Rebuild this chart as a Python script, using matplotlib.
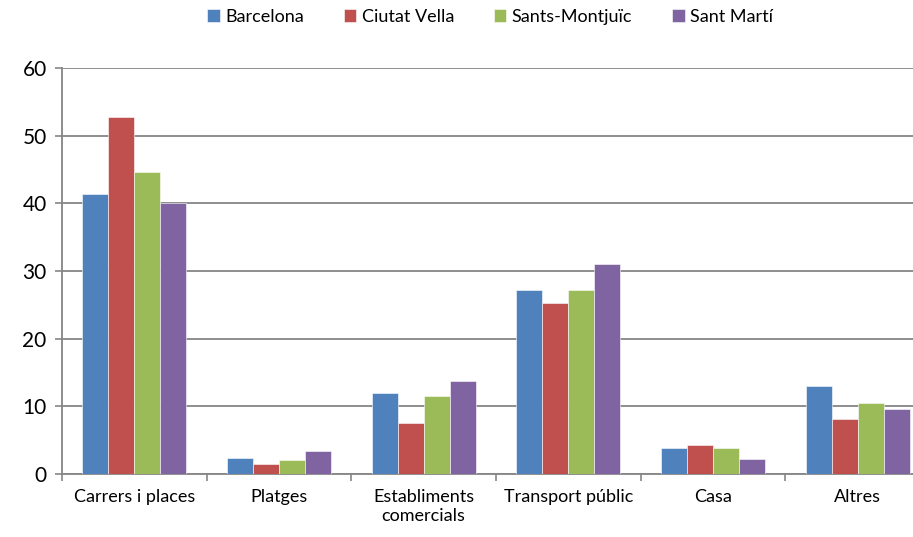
import matplotlib.pyplot as plt
import numpy as np

plt.rcParams['font.family'] = ['Lato', 'DejaVu Sans']

categories = ["Carrers i places", "Platges", "Establiments\ncomercials",
              "Transport públic", "Casa", "Altres"]
series_names = ["Barcelona", "Ciutat Vella", "Sants-Montjuïc", "Sant Martí"]
barcelona = [41.4, 2.4, 12.0, 27.2, 3.8, 13.0]
ciutat_vella = [52.8, 1.5, 7.5, 25.3, 4.3, 8.2]
sants_montjuic = [44.6, 2.1, 11.6, 27.2, 3.8, 10.5]
sant_marti = [40.0, 3.4, 13.7, 31.0, 2.2, 9.6]
colors = ["#4F81BD", "#C0504D", "#9BBB59", "#8064A2"]

fig = plt.figure(figsize=(9.13, 5.37), dpi=100)
ax = fig.add_axes([62 / 913, 63 / 537, 868 / 913, 406 / 537])

x = np.arange(len(categories))
w = 0.18
for i, (name, vals) in enumerate(zip(series_names,
                                     [barcelona, ciutat_vella, sants_montjuic, sant_marti])):
    ax.bar(x + (i - 1.5) * w, vals, w, color=colors[i], label=name,
           edgecolor="white", linewidth=0.4, zorder=3)

ax.set_xlim(-0.5, len(categories) - 0.5)
ax.set_ylim(0, 60)
ax.set_yticks(range(0, 61, 10))
ax.tick_params(axis='y', labelsize=15, length=5, color="#868686", width=1.2, pad=6)
ax.yaxis.grid(True, color="#868686", linewidth=1.3, zorder=0)

ax.set_xticks(x)
ax.set_xticklabels(categories, fontsize=13, linespacing=1.2)
ax.tick_params(axis='x', which='major', length=0, pad=11)
ax.set_xticks(np.arange(-0.5, len(categories)), minor=True)
ax.tick_params(axis='x', which='minor', length=5, color="#868686", width=1.2)

for side in ["top", "right"]:
    ax.spines[side].set_visible(False)
for side in ["left", "bottom"]:
    ax.spines[side].set_color("#868686")
    ax.spines[side].set_linewidth(1.3)

fig.legend(loc="center", bbox_to_anchor=(490 / 913, 1 - 17 / 537), ncol=4,
           frameon=False, fontsize=13, handlelength=0.7, handleheight=0.7,
           handletextpad=0.3, columnspacing=2.2)

fig.savefig("out.png", dpi=100)
